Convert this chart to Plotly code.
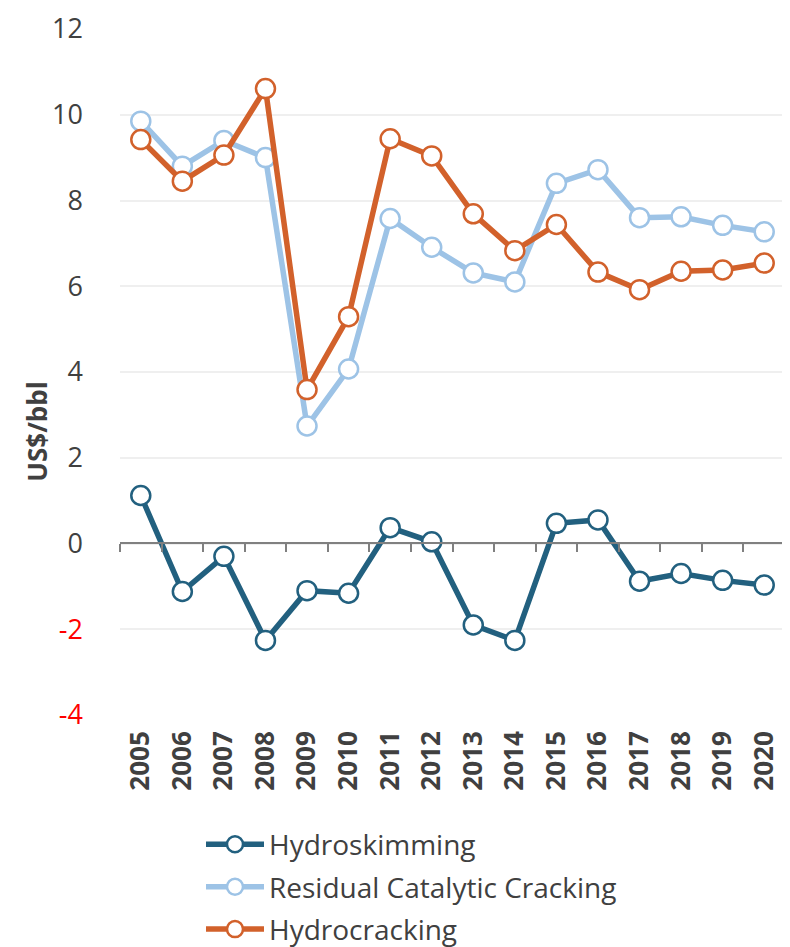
import plotly.graph_objects as go

years = [str(y) for y in range(2005, 2021)]
hydroskimming = [1.12, -1.12, -0.30, -2.26, -1.10, -1.16, 0.37, 0.04, -1.90, -2.26, 0.47, 0.55, -0.88, -0.70, -0.86, -0.97]
rcc = [9.85, 8.80, 9.40, 9.00, 2.74, 4.07, 7.58, 6.91, 6.31, 6.10, 8.40, 8.72, 7.60, 7.62, 7.42, 7.27]
hydrocracking = [9.42, 8.45, 9.06, 10.61, 3.59, 5.29, 9.44, 9.04, 7.69, 6.83, 7.44, 6.33, 5.92, 6.35, 6.38, 6.54]

y_ticks = [-4, -2, 0, 2, 4, 6, 8, 10, 12]
y_ticktext = ["<span style='color:#FF0000'>-4</span>", "<span style='color:#FF0000'>-2</span>",
              "0", "2", "4", "6", "8", "10", "12"]
y_title = "<b>US$/bbl</b>"

series = [
    ("Hydroskimming", hydroskimming, "#22607F"),
    ("Residual Catalytic Cracking", rcc, "#9DC3E6"),
    ("Hydrocracking", hydrocracking, "#D2612B"),
]

fig = go.Figure()
for name, vals, col in series:
    fig.add_trace(go.Scatter(
        x=years, y=vals, name=name, mode="lines+markers", legendgroup=name,
        line=dict(color=col, width=5.5),
        marker=dict(symbol="circle", size=19, color="white", line=dict(color=col, width=2.5)),
    ))

# helper trace for the zero-line axis with boundary ticks
fig.add_trace(go.Scatter(x=years, y=[None] * len(years), xaxis="x2", yaxis="y",
                         showlegend=False, hoverinfo="skip", mode="lines"))

W, H = 790, 947
L, R, top, plot_bottom = 112, 13, 21, 716
PW = W - L - R
PH = H - top
ydom0 = (H - plot_bottom) / PH
ymin, ymax = -4, 12
zero_pos = ydom0 + (0 - ymin) / (ymax - ymin) * (1 - ydom0)
xrange_cat = [-0.5, len(years) - 0.5]

font_main = "Open Sans"
fig.update_layout(
    width=W, height=H,
    margin=dict(l=L, r=R, t=top, b=0),
    paper_bgcolor="white", plot_bgcolor="white",
    font=dict(family=font_main, color="#404040"),
    showlegend=True,
    legend=dict(
        orientation="v", x=(193 - L) / PW, xanchor="left", y=(H - 822) / PH, yanchor="top",
        font=dict(size=28, color="#404040", family=font_main),
        itemwidth=58, tracegroupgap=3, bgcolor="rgba(0,0,0,0)",
    ),
    xaxis=dict(
        type="category", range=xrange_cat, showgrid=False, showline=False, ticks="", zeroline=False,
        tickangle=-90, tickfont=dict(size=26, family=font_main, color="#404040", weight="bold"),
        ticklabelstandoff=10, automargin=False,
    ),
    xaxis2=dict(
        type="category", overlaying="x", anchor="free", position=zero_pos, side="bottom",
        matches="x", showline=True, linecolor="#808080", linewidth=1.5,
        ticks="outside", ticklen=8, tickcolor="#808080", tickwidth=1.5,
        tickson="boundaries", showticklabels=False, showgrid=False, zeroline=False,
        automargin=False,
    ),
    yaxis=dict(
        domain=[ydom0, 1],
        range=[ymin, ymax], tickvals=y_ticks, ticktext=y_ticktext,
        showgrid=True, gridcolor="#EFEFEF", gridwidth=1.5, zeroline=False,
        showline=False, ticks="", ticklabelstandoff=36, automargin=False,
        tickfont=dict(size=27, family=font_main, color="#404040"),
    ),
    annotations=[dict(
        text=y_title, textangle=-90, showarrow=False,
        xref="paper", yref="paper", x=(29 - L) / PW, y=(H - 429) / PH,
        xanchor="center", yanchor="middle",
        font=dict(size=26, family=font_main, color="#404040"),
    )],
)

fig.write_html("out.html")
